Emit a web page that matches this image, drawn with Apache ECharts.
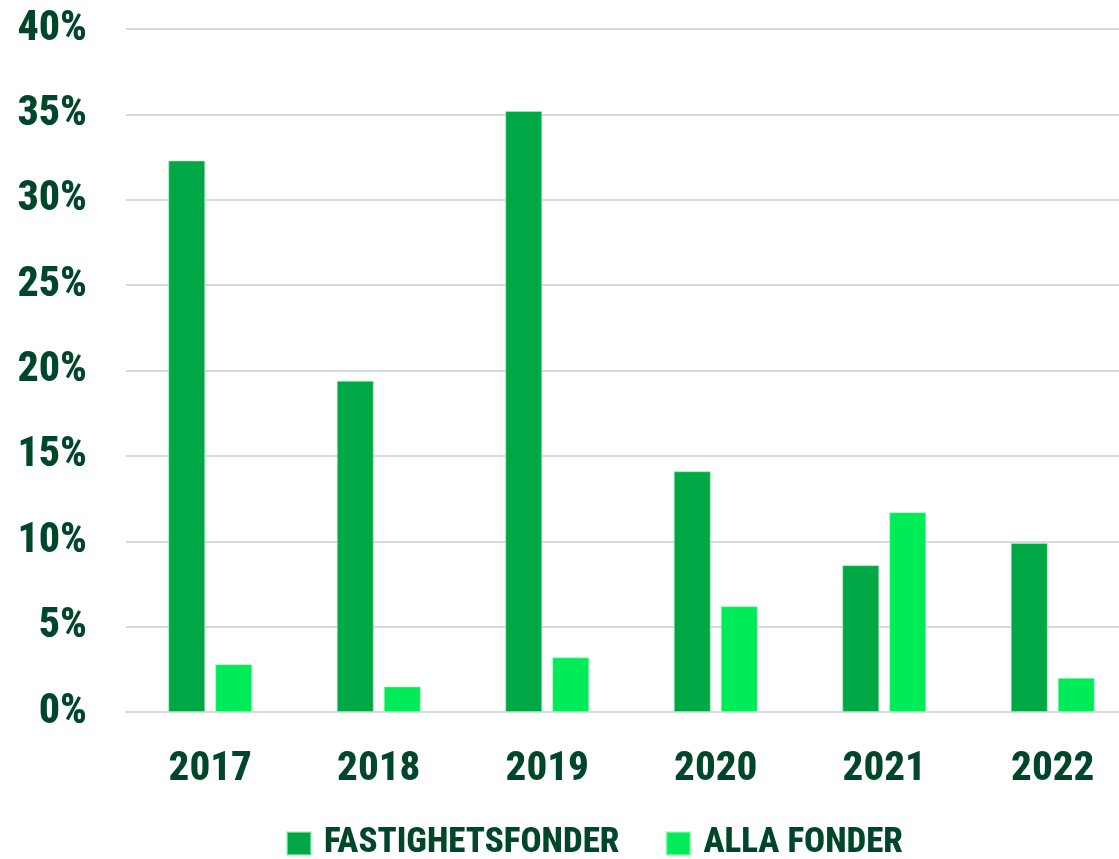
<!DOCTYPE html>
<html>
<head>
<meta charset="utf-8">
<script src="https://cdn.jsdelivr.net/npm/echarts@6/dist/echarts.min.js"></script>
<style>
html,body{margin:0;padding:0;background:#fff;}
#chart{width:1119px;height:859px;}
</style>
</head>
<body>
<div id="chart"></div>
<script>
const years = ['2017','2018','2019','2020','2021','2022'];
const fastighetsfonder = [32.3, 19.4, 35.2, 14.1, 8.6, 9.9];
const allaFonder = [2.8, 1.5, 3.2, 6.2, 11.7, 2.0];
const seriesNames = ['FASTIGHETSFONDER', 'ALLA FONDER'];

const FONT = 'Roboto, "Open Sans", sans-serif';
const TEXT = '#00472a';
const txt = (size) => ({ fontFamily: FONT, fontStyle: 'condensed', fontWeight: 800, fontSize: size, color: TEXT });

const chart = echarts.init(document.getElementById('chart'));
chart.setOption({
  animation: false,
  backgroundColor: '#ffffff',
  grid: { left: 126, top: 29, right: -18, bottom: 147, containLabel: false, outerBoundsMode: 'none' },
  legend: {
    left: 286, top: 826, padding: 0,
    itemWidth: 24, itemHeight: 23, itemGap: 46,
    icon: 'rect',
    textStyle: Object.assign(txt(35), { padding: [0,0,0,8] }),
    data: seriesNames
  },
  xAxis: {
    type: 'category',
    data: years,
    axisLine: { show: true, lineStyle: { color: '#d9d9d9', width: 2 } },
    axisTick: { show: false },
    axisLabel: Object.assign(txt(41), { margin: 37 })
  },
  yAxis: {
    type: 'value', min: 0, max: 40, interval: 5,
    axisLine: { show: false }, axisTick: { show: false },
    splitLine: { lineStyle: { color: '#d9d9d9', width: 2 } },
    axisLabel: Object.assign(txt(42), { margin: 39, formatter: '{value}%' })
  },
  series: [
    { name: seriesNames[0], type: 'bar', data: fastighetsfonder, barWidth: 37, barGap: '27%',
      itemStyle: { color: '#00a845', borderColor: 'rgba(160,240,190,0.6)', borderWidth: 1 } },
    { name: seriesNames[1], type: 'bar', data: allaFonder, barWidth: 37, barGap: '27%',
      itemStyle: { color: '#00eb58', borderColor: 'rgba(160,250,190,0.6)', borderWidth: 1 } }
  ]
});
</script>
</body>
</html>
